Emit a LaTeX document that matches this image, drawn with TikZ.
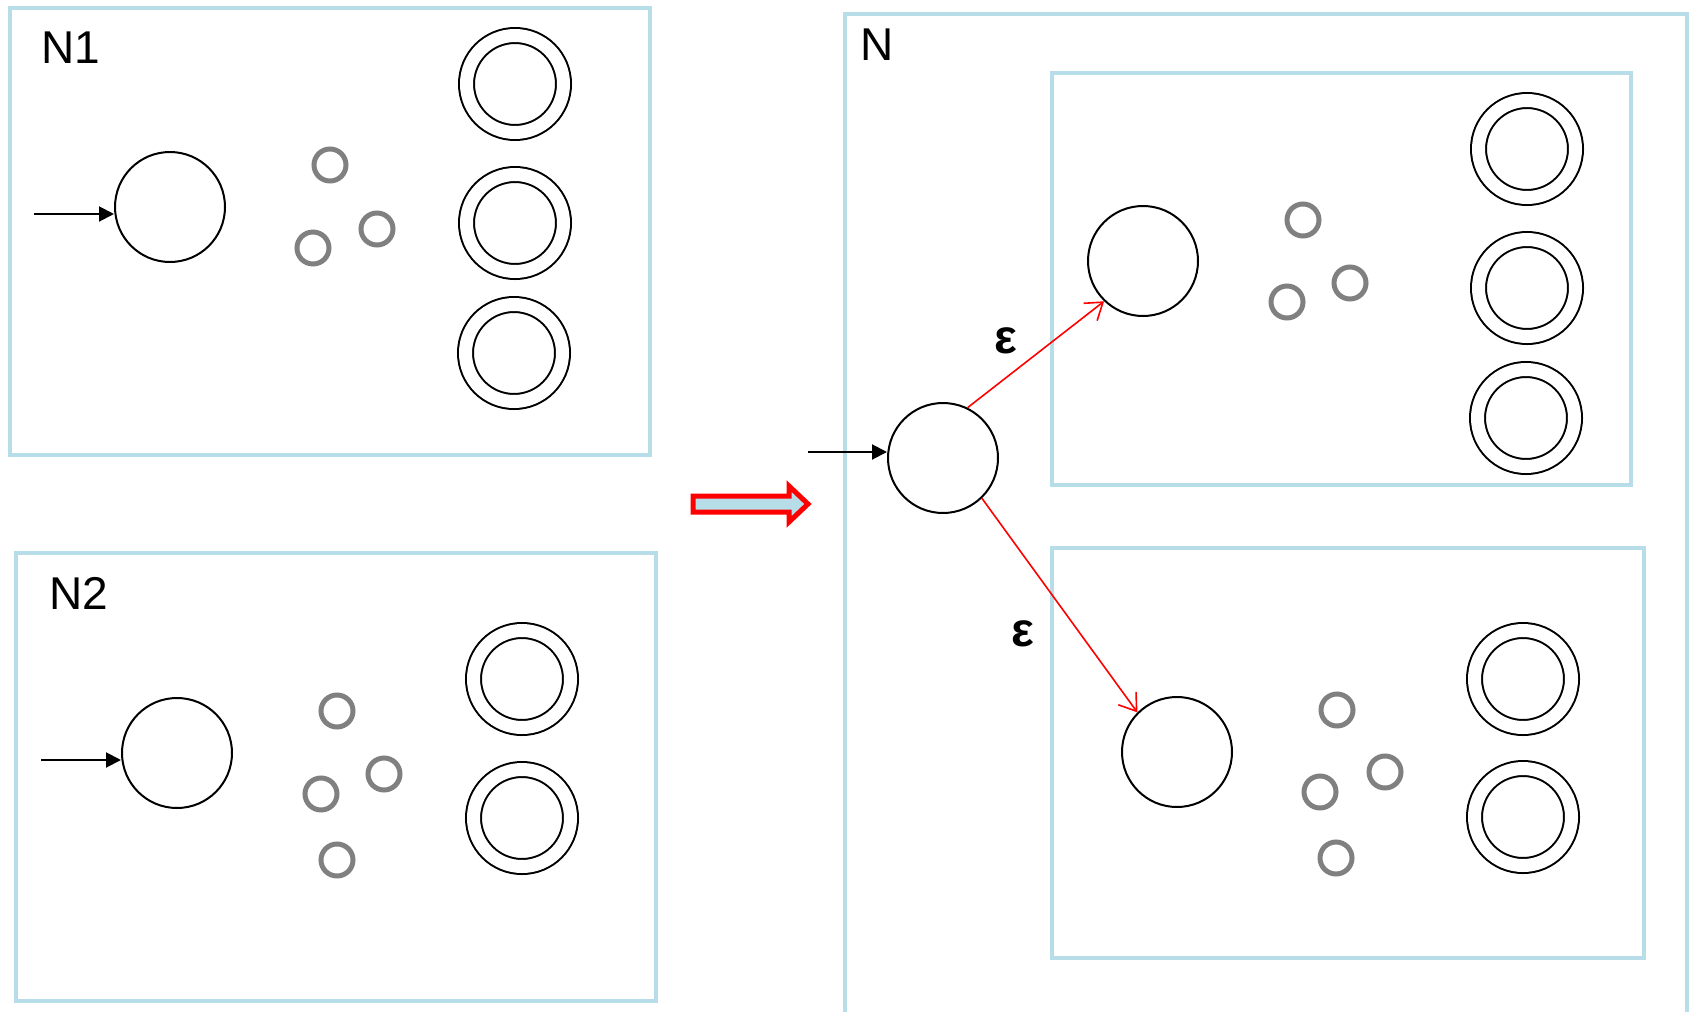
\documentclass[tikz,border=0pt]{standalone}
\usepackage{fontspec}
\setmainfont{Liberation Sans}
\usetikzlibrary{arrows.meta,positioning}
\definecolor{boxblue}{HTML}{B7DEE8}
\definecolor{tokgray}{HTML}{808080}

\begin{document}
\begin{tikzpicture}[x=0.5pt,y=-0.5pt,
    every node/.style={font=\fontsize{23}{27}\selectfont},
    frame/.style={draw=boxblue, line width=2pt},
    state/.style={draw, circle, line width=1pt, minimum size=55pt, inner sep=0pt},
    accept/.style={draw, circle, line width=1pt, double, double distance=6.5pt, minimum size=48.5pt, inner sep=0pt},
    dot/.style={draw=tokgray, circle, line width=2.5pt, minimum size=16pt, inner sep=0pt},
    entry/.style={-{Triangle[length=7.5pt,width=7.5pt]}, line width=1pt},
    eps/.style={red, line width=0.8pt, -{Straight Barb[length=8pt,width=11pt]}},
    epslabel/.style={font=\fontsize{24}{28}\selectfont\bfseries}]
    \useasboundingbox (0,0) rectangle (1698,1012);
    % frames
    \draw[frame] (10,8) rectangle (650,455);
    \draw[frame] (16,553) rectangle (656,1001);
    \draw[frame] (845,1020) -- (845,14) -- (1687,14) -- (1687,1020);
    \draw[frame] (1052,73) rectangle (1631,485);
    \draw[frame] (1052,548) rectangle (1644,958);
    \node (lN1) at (71,48) {N1};
    \node (lN2) at (79,593) {N2};
    \node (lN) at (877,45) {N};
    % N1
    \node[state] (s1) at (170,207) {};
    \node[dot] (d11) at (330,165) {};
    \node[dot] (d12) at (377,229) {};
    \node[dot] (d13) at (313,248) {};
    \node[accept] (f11) at (515,84) {};
    \node[accept] (f12) at (515,223) {};
    \node[accept] (f13) at (514,353) {};
    \coordinate (in1) at (34,214);
    \draw[entry] (in1) -- (s1.west |- in1);
    % N2
    \node[state] (s2) at (177,753) {};
    \node[dot] (d21) at (337,711) {};
    \node[dot] (d22) at (384,774) {};
    \node[dot] (d23) at (321,794) {};
    \node[dot] (d24) at (337,860) {};
    \node[accept] (f21) at (522,679) {};
    \node[accept] (f22) at (522,818) {};
    \coordinate (in2) at (41,760);
    \draw[entry] (in2) -- (s2.west |- in2);
    % transformation arrow
    \draw[red, line width=2.5pt, fill=boxblue, miter limit=10]
        (693,496) -- (789,496) -- (789,486) -- (808,504) -- (789,522) -- (789,512) -- (693,512) -- cycle;
    % N
    \node[state] (s0) at (943,458) {};
    \coordinate (in0) at (808,452);
    \draw[entry] (in0) -- (s0.west |- in0);
    % copy of N1
    \node[state] (u1) at (1143,261) {};
    \node[dot] (e11) at (1303,220) {};
    \node[dot] (e12) at (1350,283) {};
    \node[dot] (e13) at (1287,302) {};
    \node[accept] (g11) at (1527,149) {};
    \node[accept] (g12) at (1527,288) {};
    \node[accept] (g13) at (1526,418) {};
    % copy of N2
    \node[state] (u2) at (1177,752) {};
    \node[dot] (e21) at (1337,710) {};
    \node[dot] (e22) at (1385,772) {};
    \node[dot] (e23) at (1320,792) {};
    \node[dot] (e24) at (1336,858) {};
    \node[accept] (g21) at (1523,679) {};
    \node[accept] (g22) at (1523,817) {};
    % epsilon moves
    \draw[eps] (s0.64) -- (u1.226);
    \draw[eps] (s0.-46) -- (u2.135);
    \node[epslabel] (eps1) at (1006,341) {ε};
    \node[epslabel] (eps2) at (1023,634) {ε};
\end{tikzpicture}
\end{document}
